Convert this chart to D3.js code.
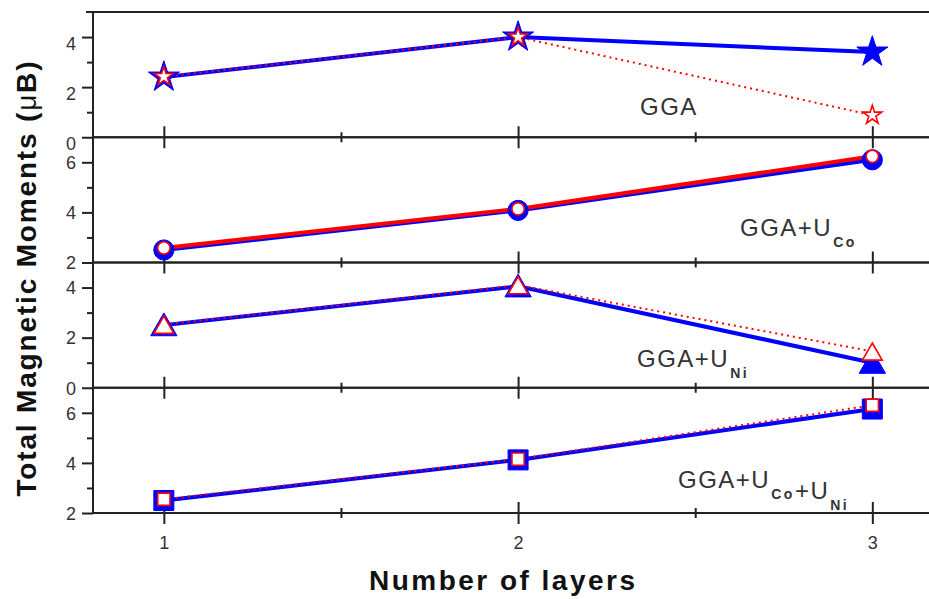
<!DOCTYPE html>
<html>
<head>
<meta charset="utf-8">
<script src="https://cdn.jsdelivr.net/npm/d3@7"></script>
<style>
  html, body { margin: 0; padding: 0; background: #fff; }
  svg { display: block; font-family: "Liberation Sans", Arial, sans-serif; }
  .tick text { font-size: 18px; font-family: "Liberation Sans", Arial, sans-serif; fill: #333; }
</style>
</head>
<body>
<svg id="chart" width="929" height="599"></svg>
<script>
// ---- data ----
const layers = [1, 2, 3];
const panelLabels = [
  [["GGA", ""]],
  [["GGA+U", "Co"]],
  [["GGA+U", "Ni"]],
  [["GGA+U", "Co"], ["+U", "Ni"]]
];
const panelSymbols = ["star", "circle", "triangle", "square"];
const yDomains = [[0, 5], [2, 7], [0, 5], [2, 7]];
const yMajorTicks = [[0, 2, 4], [2, 4, 6], [0, 2, 4], [2, 4, 6]];
const yMinorTicks = [[1, 3], [3, 5], [1, 3], [3, 5]];
const xMajorTicks = [1, 2, 3];
const xMinorTicks = [1.5, 2.5];
// blue (filled markers, solid line)
const blueGGA      = [2.40, 4.00, 3.40];
const blueGGAUCo   = [2.50, 4.08, 6.10];
const blueGGAUNi   = [2.50, 4.05, 1.00];
const blueGGAUCoNi = [2.50, 4.12, 6.15];
// red (open markers, dotted line except panel 2 solid)
const redGGA       = [2.42, 4.00, 0.88];
const redGGAUCo    = [2.58, 4.14, 6.24];
const redGGAUNi    = [2.52, 4.10, 1.45];
const redGGAUCoNi  = [2.55, 4.15, 6.30];
const blueSeries = [blueGGA, blueGGAUCo, blueGGAUNi, blueGGAUCoNi];
const redSeries  = [redGGA, redGGAUCo, redGGAUNi, redGGAUCoNi];
const redDotted  = [true, false, true, true];

// ---- layout ----
const svg = d3.select("#chart");
const mLeft = 93, mRight = 929, mTop = 12, mBottom = 513;
const ph = (mBottom - mTop) / 4;
const axisColor = "#222", textColor = "#333";
const blue = "#0000ff", red = "#ff0000";
const fmt = d3.format("d");

const x = d3.scaleLinear().domain([0.8, 3.16]).range([mLeft, mRight]);

const symbolMap = {
  star: d3.symbolStar, circle: d3.symbolCircle,
  triangle: d3.symbolTriangle, square: d3.symbolSquare
};
const blueSize = { star: 300, circle: 320, triangle: 300, square: 400 };
const redSize  = { star: 110, circle: 120, triangle: 170, square: 150 };

for (let i = 0; i < 4; i++) {
  const pTop = mTop + i * ph, pBot = pTop + ph;
  const y = d3.scaleLinear().domain(yDomains[i]).range([pBot, pTop]);
  const g = svg.append("g");

  // left axis major
  const ya = g.append("g").attr("transform", `translate(${mLeft},0)`)
    .call(d3.axisLeft(y).tickValues(yMajorTicks[i]).tickFormat(fmt).tickSize(11).tickPadding(6));
  ya.select(".domain").remove();
  ya.selectAll("line").attr("stroke", axisColor).attr("stroke-width", 2);
  ya.selectAll("text").attr("dy", i === 0 ? "0.7em" : "0.35em");
  // left axis minor
  const ym = g.append("g").attr("transform", `translate(${mLeft},0)`)
    .call(d3.axisLeft(y).tickValues(yMinorTicks[i]).tickSize(6).tickFormat(""));
  ym.select(".domain").remove();
  ym.selectAll("line").attr("stroke", axisColor).attr("stroke-width", 2);

  // bottom line of panel with crossing ticks
  [d3.axisBottom, d3.axisTop].forEach((ax, k) => {
    const a = g.append("g").attr("transform", `translate(0,${pBot})`)
      .call(ax(x).tickValues(xMajorTicks).tickSize(11)
        .tickFormat(i === 3 && k === 0 ? fmt : ""));
    a.select(".domain").attr("stroke", axisColor).attr("stroke-width", 2)
      .attr("d", `M${mLeft},0H${mRight}`);
    a.selectAll("line").attr("stroke", axisColor).attr("stroke-width", 2);
    a.selectAll("text").attr("dy", "1.2em");
    const m = g.append("g").attr("transform", `translate(0,${pBot})`)
      .call(ax(x).tickValues(xMinorTicks).tickSize(5).tickFormat(""));
    m.select(".domain").remove();
    m.selectAll("line").attr("stroke", axisColor).attr("stroke-width", 2);
  });

  // series
  const line = d3.line().x((d, j) => x(layers[j])).y(d => y(d));
  g.append("path").datum(blueSeries[i]).attr("d", line)
    .attr("fill", "none").attr("stroke", blue).attr("stroke-width", 4);
  g.append("path").datum(redSeries[i]).attr("d", line)
    .attr("fill", "none").attr("stroke", red)
    .attr("stroke-width", redDotted[i] ? 2 : 4)
    .attr("stroke-dasharray", redDotted[i] ? "2,4" : null);

  const sym = panelSymbols[i];
  const ty = sym === "triangle" ? 3 : 0;
  g.selectAll(".bm").data(blueSeries[i]).enter().append("path")
    .attr("transform", (d, j) => `translate(${x(layers[j])},${y(d) + ty})`)
    .attr("d", d3.symbol(symbolMap[sym], blueSize[sym]))
    .attr("fill", blue).attr("stroke", blue).attr("stroke-width", 1);
  g.selectAll(".rm").data(redSeries[i]).enter().append("path")
    .attr("transform", (d, j) => `translate(${x(layers[j])},${y(d) + ty})`)
    .attr("d", d3.symbol(symbolMap[sym], redSize[sym]))
    .attr("fill", "#fff").attr("stroke", red).attr("stroke-width", 1.6);
}

// top frame line
svg.append("line").attr("x1", 86).attr("x2", mRight).attr("y1", mTop).attr("y2", mTop)
  .attr("stroke", axisColor).attr("stroke-width", 2);
// left axis line
svg.append("line").attr("x1", mLeft).attr("x2", mLeft).attr("y1", mTop).attr("y2", mBottom)
  .attr("stroke", axisColor).attr("stroke-width", 2);

// panel annotations
const labelPos = [[640, 115], [740, 236], [637, 367], [678, 488]];
panelLabels.forEach((parts, i) => {
  const t = svg.append("text").attr("x", labelPos[i][0]).attr("y", labelPos[i][1])
    .attr("fill", textColor).attr("font-size", 24).attr("letter-spacing", 1.5);
  parts.forEach(([main, sub]) => {
    t.append("tspan").text(main).attr("dy", 0);
    if (sub) {
      t.append("tspan").text(sub).attr("font-size", 14).attr("font-weight", "bold")
        .attr("letter-spacing", 2.5).attr("dx", 1).attr("dy", 11);
      t.append("tspan").text("").attr("dy", -11);
    }
  });
});

// axis titles
svg.append("text").attr("x", 502).attr("y", 590).attr("text-anchor", "middle")
  .attr("font-size", 28).attr("font-weight", "bold").attr("fill", "#111")
  .attr("textLength", 266).attr("lengthAdjust", "spacing")
  .text("Number of layers");
const yt = svg.append("text")
  .attr("transform", "translate(36,279) rotate(-90)")
  .attr("text-anchor", "middle")
  .attr("font-size", 28).attr("font-weight", "bold").attr("fill", "#111")
  .attr("textLength", 435).attr("lengthAdjust", "spacing");
yt.append("tspan").text("Total Magnetic Moments (");
yt.append("tspan").text("μ").attr("font-weight", "normal");
yt.append("tspan").text("B)");
</script>
</body>
</html>
